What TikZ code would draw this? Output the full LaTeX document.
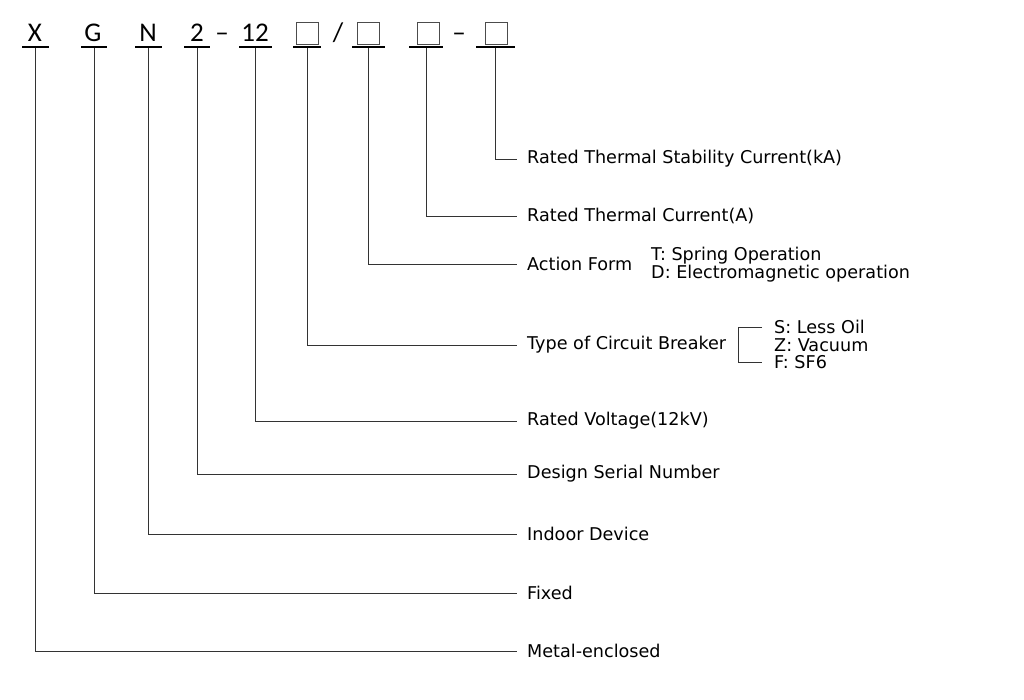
\documentclass[tikz,border=0pt]{standalone}
\usepackage{fontspec}
\setmainfont{DejaVu Sans}
\newfontfamily\codefont{Carlito}
\tikzset{
  code/.style={font=\codefont\fontsize{27}{30}\selectfont, inner sep=0pt, anchor=base},
  ubar/.style={fill=black, inner sep=0pt, minimum height=2, text height=0pt, text depth=0pt},
  cbox/.style={draw=black!70, line width=0.8pt, minimum size=22, inner sep=0pt},
  lead/.style={draw=black!80, line width=0.8pt},
  lbl/.style={font=\fontsize{17.6}{19}\selectfont, anchor=west, inner xsep=10pt, inner ysep=0pt},
  txt/.style={font=\fontsize{17.6}{19}\selectfont, anchor=west, inner sep=0pt},
}
\begin{document}
\begin{tikzpicture}[x=1pt, y=-1pt]
\useasboundingbox (0,0) rectangle (1024,700);
% model code
\node[code] (cX) at (35,42) {X};
\node[code] (cG) at (93,42) {G};
\node[code] (cN) at (148,42) {N};
\node[code] (c2) at (197,42) {2};
\node[code] (d1) at (222,42) {–};
\node[code] (c12) at (255,42) {12};
\node[cbox] (b1) at (307,33) {};
\node[code] (sl) at (338,42) {/};
\node[cbox] (b2) at (368,33) {};
\node[cbox] (b3) at (428,33) {};
\node[code] (d2) at (459,42) {–};
\node[cbox] (b4) at (496,33) {};
% underlines
\node[ubar, minimum width=27] (uX) at (35,47) {};
\node[ubar, minimum width=26] (uG) at (94,47) {};
\node[ubar, minimum width=27] (uN) at (148,47) {};
\node[ubar, minimum width=26] (u2) at (197,47) {};
\node[ubar, minimum width=33] (u12) at (255,47) {};
\node[ubar, minimum width=28] (ub1) at (307,47) {};
\node[ubar, minimum width=33] (ub2) at (368,47) {};
\node[ubar, minimum width=34] (ub3) at (426,47) {};
\node[ubar, minimum width=39] (ub4) at (495,47) {};
% meanings
\node[lbl] (lb4) at (517,159) {Rated Thermal Stability Current(kA)};
\node[lbl] (lb3) at (517,216) {Rated Thermal Current(A)};
\node[lbl] (lb2) at (517,264) {Action Form};
\node[lbl] (lb1) at (517,345) {Type of Circuit Breaker};
\node[lbl] (l12) at (517,421) {Rated Voltage(12kV)};
\node[lbl] (l2) at (517,474) {Design Serial Number};
\node[lbl] (lN) at (517,534) {Indoor Device};
\node[lbl] (lG) at (517,593) {Fixed};
\node[lbl] (lX) at (517,651) {Metal-enclosed};
% options
\node[txt] (tT) at (651,256) {T: Spring Operation};
\node[txt] (tD) at (651,274) {D: Electromagnetic operation};
\node[txt] (tS) at (774,327) {S: Less Oil};
\node[txt] (tZ) at (774,345) {Z: Vacuum};
\node[txt] (tF) at (774,362) {F: SF6};
% leaders
\foreach \u/\l in {ub4/lb4, ub3/lb3, ub2/lb2, ub1/lb1, u12/l12, u2/l2, uN/lN, uG/lG, uX/lX}
  \draw[lead] (\u.south) |- (\l.west);
\draw[lead] ([xshift=-12]tS.west) -| ([xshift=-36]tZ.west) |- ([xshift=-12]tF.west);
\end{tikzpicture}
\end{document}
